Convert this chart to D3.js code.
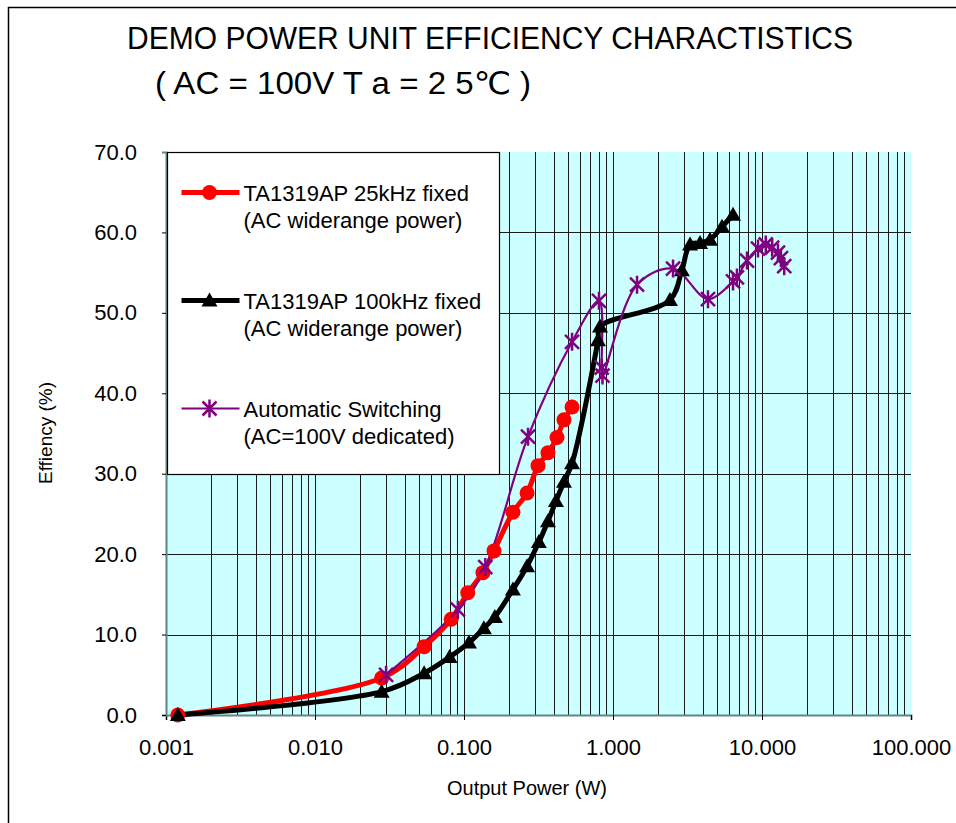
<!DOCTYPE html>
<html>
<head>
<meta charset="utf-8">
<script src="https://cdn.jsdelivr.net/npm/d3@7"></script>
<style>
body{margin:0;background:#fff;}
svg{display:block;font-family:"Liberation Sans",Arial,"DejaVu Sans",sans-serif;}
</style>
</head>
<body>
<div id="chart"></div>
<script>
// axis ticks
var xTicks = [0.001, 0.01, 0.1, 1, 10, 100];
var xTickLabels = ["0.001", "0.010", "0.100", "1.000", "10.000", "100.000"];
var yTicks = [0, 10, 20, 30, 40, 50, 60, 70];

// TA1319AP 25kHz fixed
var fixed25Power = [0.0012, 0.028, 0.054, 0.082, 0.106, 0.134, 0.159, 0.213, 0.265, 0.314, 0.366, 0.421, 0.469, 0.531];
var fixed25Eff   = [0, 4.6, 8.5, 11.9, 15.2, 17.7, 20.4, 25.2, 27.6, 31.0, 32.6, 34.5, 36.7, 38.3];

// TA1319AP 100kHz fixed
var fixed100Power = [0.0012, 0.028, 0.054, 0.080, 0.108, 0.136, 0.161, 0.213, 0.265, 0.318, 0.366, 0.414, 0.469, 0.531, 0.793, 0.818, 2.41, 2.90, 3.29, 3.84, 4.48, 5.39, 6.39];
var fixed100Eff   = [0, 2.9, 5.2, 7.2, 9.0, 10.8, 12.2, 15.6, 18.5, 21.5, 24.1, 26.6, 29.0, 31.3, 46.6, 48.3, 51.6, 55.3, 58.5, 58.7, 59.1, 60.7, 62.2];

// Automatic Switching
var autoPower = [0.030, 0.091, 0.139, 0.269, 0.531, 0.805, 0.84, 0.85, 1.45, 2.53, 4.34, 6.39, 6.79, 7.93, 9.40, 10.6, 11.7, 12.8, 13.4, 14.1];
var autoEff   = [5.0, 13.1, 18.4, 34.6, 46.4, 51.5, 43.2, 42.2, 53.5, 55.5, 51.7, 53.9, 54.4, 56.5, 58.0, 58.5, 58.1, 57.5, 56.8, 55.8];

var legendLine1 = ["TA1319AP 25kHz fixed", "TA1319AP 100kHz fixed", "Automatic Switching"];
var legendLine2 = ["(AC widerange power)", "(AC widerange power)", "(AC=100V dedicated)"];

var W = 956, H = 823;
var margin = {top: 152, right: 45, bottom: 108, left: 166};
var width = W - margin.left - margin.right,
    height = H - margin.top - margin.bottom;

var svg = d3.select("#chart").append("svg").attr("width", W).attr("height", H);

// outer frame
svg.append("rect").attr("x", 8.5).attr("y", 7.5).attr("width", 1000).attr("height", 1000)
   .attr("fill", "none").attr("stroke", "#000").attr("stroke-width", 1.5);

svg.append("text").attr("x", 127).attr("y", 49).attr("font-size", 31)
   .attr("textLength", 726).attr("lengthAdjust", "spacingAndGlyphs")
   .text("DEMO POWER UNIT EFFICIENCY CHARACTISTICS");
svg.append("text").attr("x", 155).attr("y", 94).attr("font-size", 31)
   .attr("textLength", 376).attr("lengthAdjust", "spacingAndGlyphs")
   .text("( AC = 100V  T a = 2 5℃ )");

var g = svg.append("g").attr("transform", "translate(" + margin.left + "," + margin.top + ")");

var x = d3.scaleLog().domain([0.001, 100]).range([0, width]);
var y = d3.scaleLinear().domain([0, 70]).range([height, 0]);

g.append("rect").attr("width", width).attr("height", height).attr("fill", "#ccffff");

// log grid (minor ticks 2..9 in every decade)
var minor = [];
for (var d = 0; d < xTicks.length - 1; d++) {
  for (var m = 2; m <= 10; m++) minor.push(xTicks[d] * m);
}
minor.pop();
g.append("g").selectAll("line").data(minor).enter().append("line")
  .attr("x1", function(v) { return Math.round(x(v)) + 0.5; })
  .attr("x2", function(v) { return Math.round(x(v)) + 0.5; })
  .attr("y1", 0).attr("y2", height)
  .attr("stroke", "#1a1a1a").attr("stroke-width", 1);

g.append("g").selectAll("line").data(yTicks.slice(1, -1)).enter().append("line")
  .attr("x1", 0).attr("x2", width)
  .attr("y1", function(v) { return Math.round(y(v)) + 0.5; })
  .attr("y2", function(v) { return Math.round(y(v)) + 0.5; })
  .attr("stroke", "#1a1a1a").attr("stroke-width", 1);

// axes
var xAxis = g.append("g").attr("transform", "translate(0," + height + ")")
  .call(d3.axisBottom(x).tickValues(xTicks).tickSize(5).tickPadding(19)
        .tickFormat(function(v, i) { return xTickLabels[i]; }));
var yAxis = g.append("g")
  .call(d3.axisLeft(y).tickValues(yTicks).tickSize(4).tickPadding(25)
        .tickFormat(d3.format(".1f")));
[xAxis, yAxis].forEach(function(a) {
  a.select(".domain").attr("stroke", "#5f8585").attr("stroke-width", 2);
  a.selectAll(".tick line").attr("stroke", "#000");
  a.selectAll("text").attr("font-size", 22).attr("fill", "#000")
    .attr("font-family", "\"Liberation Sans\",Arial,sans-serif");
});
yAxis.selectAll(".tick").filter(function(v) { return v === 70; }).select("line").remove();

svg.append("text").attr("x", 527).attr("y", 795)
  .attr("text-anchor", "middle").attr("font-size", 20).text("Output Power (W)");
svg.append("text").attr("transform", "translate(52,433) rotate(-90)")
  .attr("text-anchor", "middle").attr("font-size", 19).text("Effiency (%)");

// legend box
var lg = svg.append("g").attr("transform", "translate(167.5,152.5)");
lg.append("rect").attr("width", 332).attr("height", 322)
  .attr("fill", "#fff").attr("stroke", "#000").attr("stroke-width", 1.2);

function pts(px, py) { return px.map(function(v, i) { return [v, py[i]]; }); }
var line = d3.line().x(function(p) { return x(p[0]); }).y(function(p) { return y(p[1]); })
  .curve(d3.curveCatmullRom.alpha(0.5));

var series = [
  {data: pts(fixed25Power, fixed25Eff), color: "#ff0000", lw: 5, marker: "circle"},
  {data: pts(fixed100Power, fixed100Eff), color: "#000000", lw: 5, marker: "triangle"},
  {data: pts(autoPower, autoEff), color: "#800080", lw: 2.2, marker: "star"}
];

function drawMarker(sel, s) {
  if (s.marker === "circle") {
    sel.append("circle").attr("r", 7.5).attr("fill", s.color);
  } else if (s.marker === "triangle") {
    sel.append("path").attr("d", "M0,-8L8,6L-8,6Z").attr("fill", s.color);
  } else {
    sel.append("path").attr("d", "M-7,-7L7,7M7,-7L-7,7M0,-9L0,9")
      .attr("stroke", s.color).attr("stroke-width", 2.5).attr("fill", "none");
  }
}

series.forEach(function(s) {
  g.append("path").datum(s.data).attr("d", line)
    .attr("fill", "none").attr("stroke", s.color).attr("stroke-width", s.lw)
    .attr("stroke-linejoin", "round");
});
series.forEach(function(s) {
  g.append("g").selectAll("g").data(s.data).enter().append("g")
    .attr("transform", function(p) { return "translate(" + x(p[0]) + "," + y(p[1]) + ")"; })
    .each(function() { drawMarker(d3.select(this), s); });
});

// legend entries
var entryY = [40, 148, 256];
series.forEach(function(s, i) {
  var e = lg.append("g").attr("transform", "translate(0," + entryY[i] + ")");
  e.append("line").attr("x1", 14).attr("x2", 72).attr("y1", 0).attr("y2", 0)
    .attr("stroke", s.color).attr("stroke-width", s.lw);
  drawMarker(e.append("g").attr("transform", "translate(42,0)"), s);
  e.append("text").attr("x", 76).attr("y", 8).attr("font-size", 22).text(legendLine1[i]);
  e.append("text").attr("x", 76).attr("y", 35).attr("font-size", 22).text(legendLine2[i]);
});
</script>
</body>
</html>
